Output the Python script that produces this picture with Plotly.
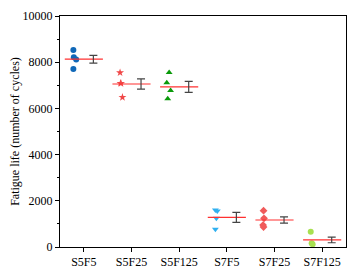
import plotly.graph_objects as go

categories = ["S5F5", "S5F25", "S5F125", "S7F5", "S7F25", "S7F125"]

s5f5 = [8530, 8210, 8120, 7710]
s5f25 = [7547, 7090, 7080, 6480]
s5f125 = [7550, 7110, 6770, 6420]
s7f5 = [1600, 1560, 1240, 765]
s7f25 = [1572, 1240, 950, 866]
s7f125 = [664, 160, 115]

means = [8130, 7056, 6930, 1285, 1169, 305]
errors = [167, 224, 238, 217, 138, 122]

y_ticks = [0, 2000, 4000, 6000, 8000, 10000]
y_ticklabels = ["0", "2000", "4000", "6000", "8000", "10000"]

series = [s5f5, s5f25, s5f125, s7f5, s7f25, s7f125]

# styling / layout
jitter = [
    [-0.22, -0.21, -0.16, -0.22],
    [-0.24, -0.23, -0.22, -0.19],
    [-0.21, -0.26, -0.18, -0.24],
    [-0.24, -0.20, -0.22, -0.24],
    [-0.23, -0.22, -0.24, -0.23],
    [-0.24, -0.22, -0.20],
]
symbols = ["circle", "star", "triangle-up", "triangle-down", "diamond", "circle"]
colors = ["#1068b8", "#f04848", "#0a9a0a", "#30b0f0", "#f05a5a", "#a8e050"]

fig = go.Figure()
for i, vals in enumerate(series):
    fig.add_trace(go.Scatter(
        x=[i + j for j in jitter[i][:len(vals)]], y=vals, mode="markers",
        marker=dict(symbol=symbols[i], color=colors[i], size=6, line=dict(width=0)),
        showlegend=False))

# mean lines
mx, my = [], []
for i, m in enumerate(means):
    mx += [i - 0.4, i + 0.4, None]
    my += [m, m, None]
fig.add_trace(go.Scatter(x=mx, y=my, mode="lines", line=dict(color="#ff3030", width=1.2),
                         showlegend=False))

# error bars
fig.add_trace(go.Scatter(
    x=[i + 0.2 for i in range(len(categories))], y=means, mode="markers",
    marker=dict(size=0.1, color="rgba(0,0,0,0)"),
    error_y=dict(type="data", array=errors, color="#444444", thickness=1.2, width=4),
    showlegend=False))

font = "Liberation Serif, Times New Roman, serif"
# page body has an 8px default margin, so the figure is offset by 8px
fig.update_layout(
    width=353, height=261,
    margin=dict(l=52, r=15, t=8, b=22),
    paper_bgcolor="white", plot_bgcolor="white",
    font=dict(family=font, size=12, color="black"),
    xaxis=dict(range=[-0.5, 5.5], tickmode="array", tickvals=list(range(len(categories))),
               ticktext=categories, showgrid=False, zeroline=False, automargin=False,
               showline=True, linecolor="black", linewidth=1, mirror=True,
               ticks="outside", ticklen=4, tickcolor="black",
               tickfont=dict(family=font, size=12)),
    yaxis=dict(range=[0, 10000], tickmode="array", tickvals=y_ticks, ticktext=y_ticklabels,
               showgrid=False, zeroline=False, automargin=False,
               showline=True, linecolor="black", linewidth=1, mirror=True,
               ticks="outside", ticklen=4, tickcolor="black",
               minor=dict(tickvals=[1000, 3000, 5000, 7000, 9000], ticks="outside",
                          ticklen=2, tickcolor="black"),
               title=dict(text="Fatigue life (number of cycles)", font=dict(family=font, size=12),
                          standoff=4),
               tickfont=dict(family=font, size=12)),
)

fig.write_html("out.html")
